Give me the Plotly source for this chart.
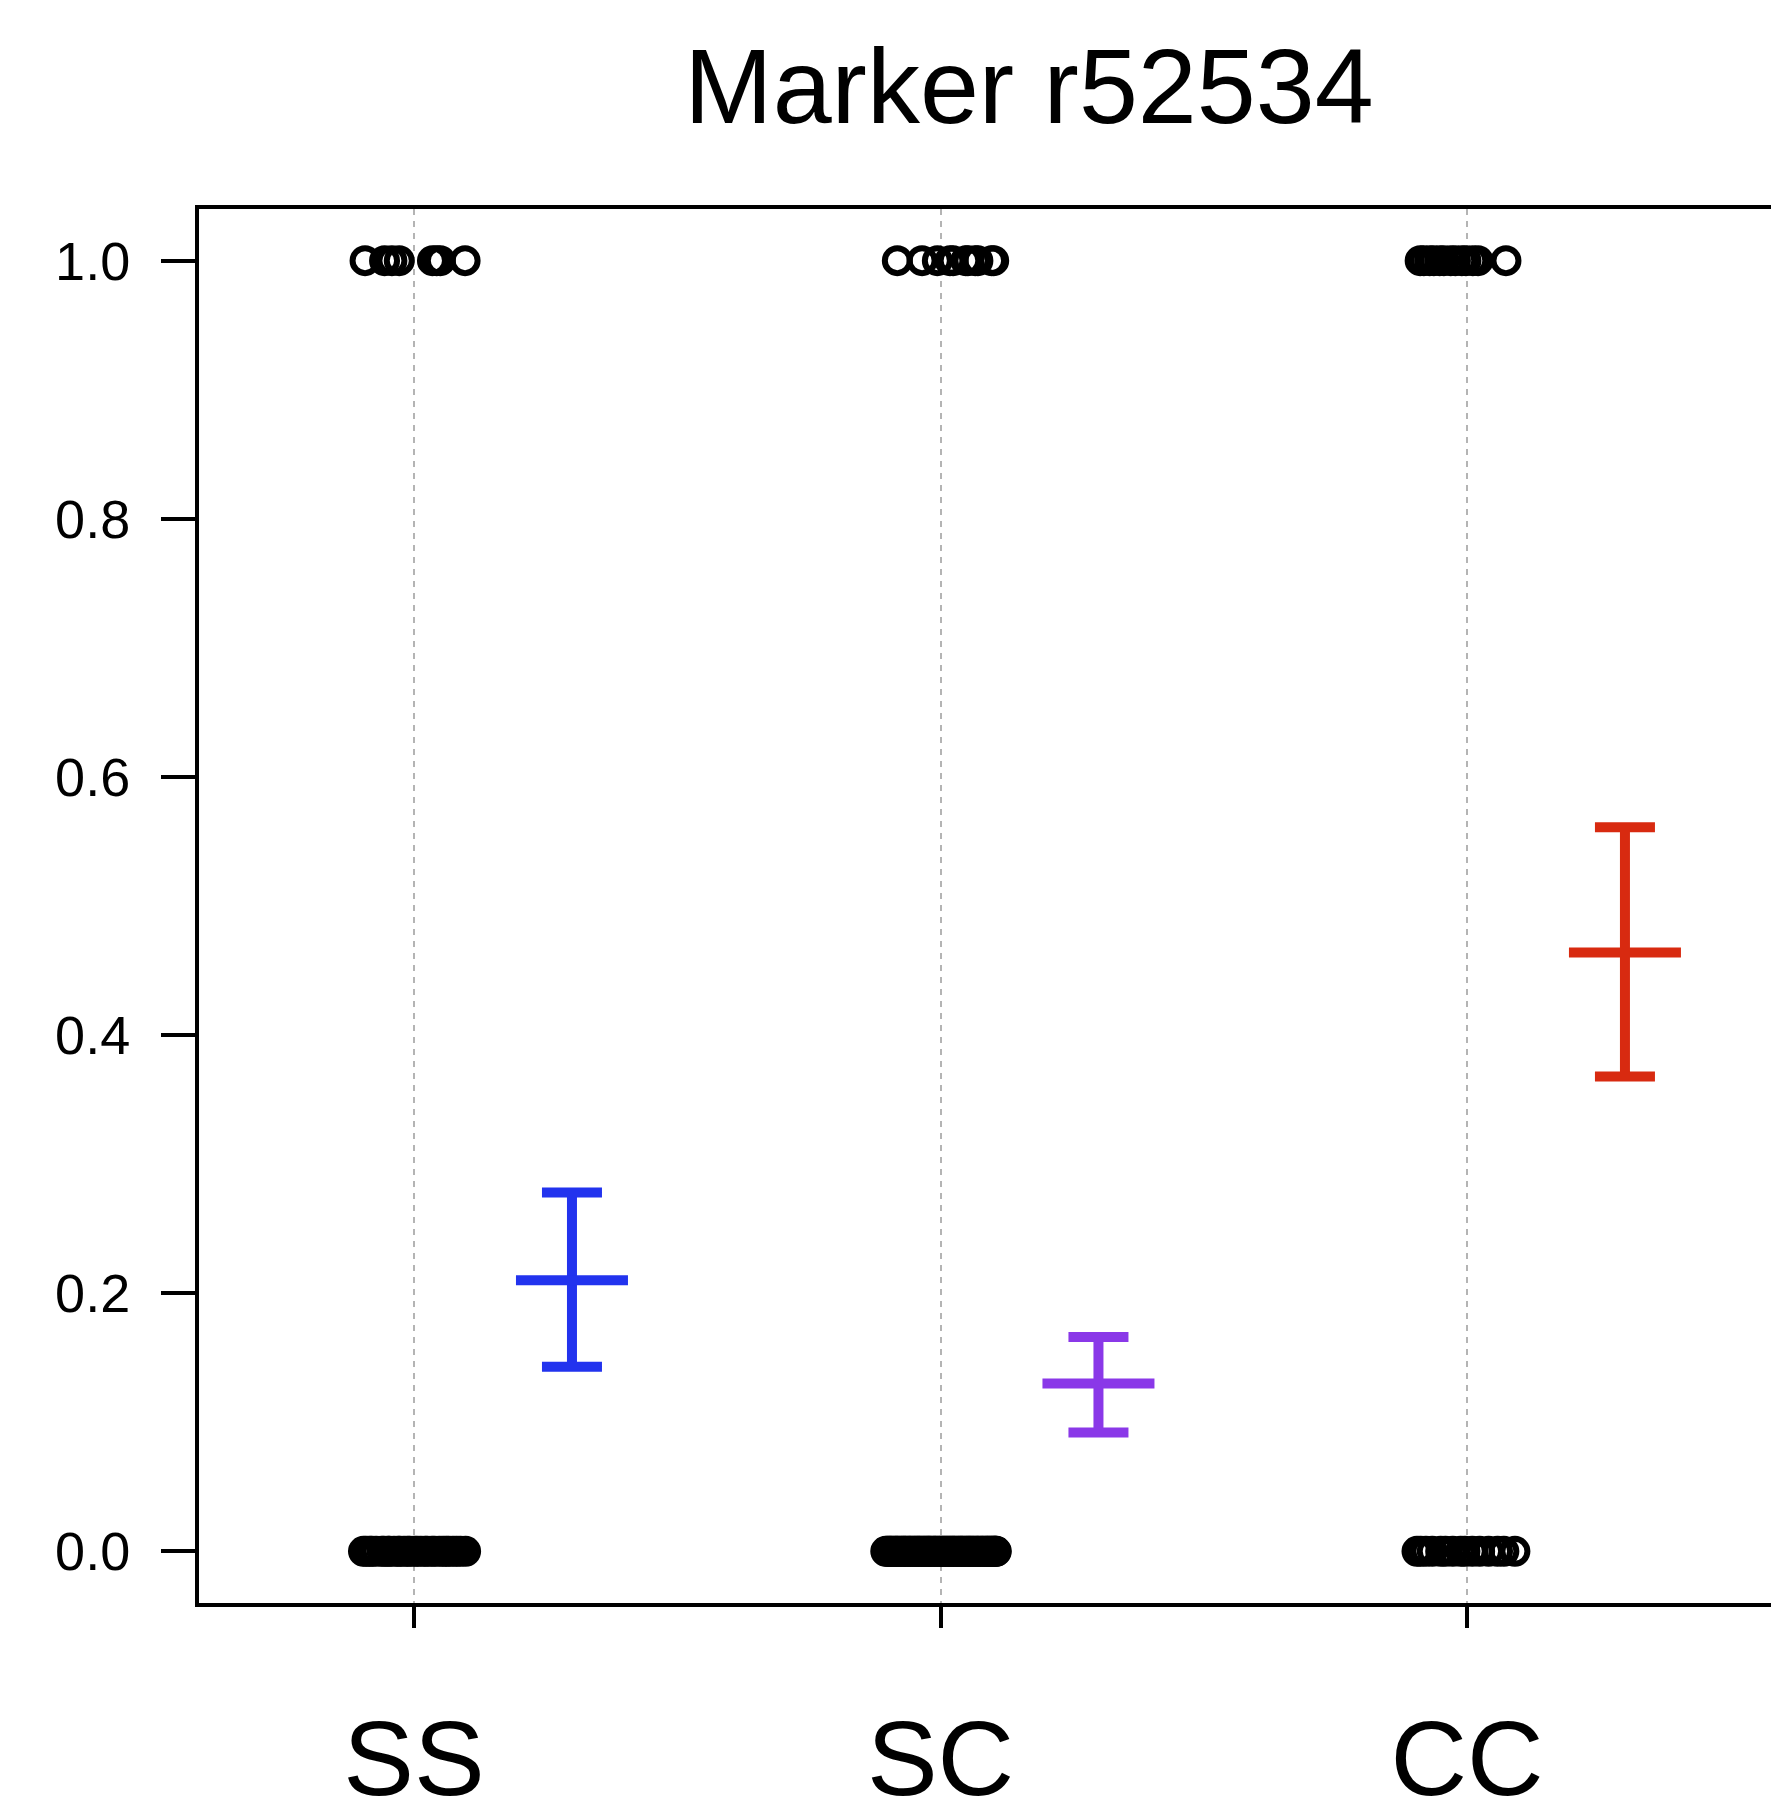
import plotly.graph_objects as go

# ---- data ----
categories = ["SS", "SC", "CC"]
cat_pos = [1, 2, 3]

# horizontal jitter offsets of the individual observations (data units)
ss_ones = [-0.093, -0.056, -0.042, -0.028, 0.035, 0.043, 0.050, 0.097]
ss_zeros = [-0.096, -0.091, -0.084, -0.080, -0.072, -0.061, -0.057, -0.049, -0.047,
            -0.038, -0.030, -0.027, -0.019, -0.012, -0.008, 0.001, 0.006, 0.013,
            0.021, 0.025, 0.034, 0.039, 0.048, 0.055, 0.061, 0.066, 0.074, 0.081,
            0.088, 0.098]
sc_ones = [-0.082, -0.035, -0.006, 0.018, 0.024, 0.048, 0.052, 0.066, 0.071, 0.097, 0.101]
sc_zeros = [-0.104, -0.101, -0.098, -0.095, -0.093, -0.089, -0.086, -0.083, -0.081,
            -0.077, -0.074, -0.071, -0.068, -0.066, -0.062, -0.059, -0.057, -0.053,
            -0.050, -0.047, -0.044, -0.041, -0.039, -0.035, -0.032, -0.029, -0.026,
            -0.023, -0.021, -0.018, -0.014, -0.011, -0.009, -0.005, -0.002, 0.001,
            0.004, 0.007, 0.010, 0.013, 0.016, 0.019, 0.022, 0.025, 0.027, 0.031,
            0.034, 0.037, 0.040, 0.042, 0.046, 0.049, 0.052, 0.055, 0.057, 0.061,
            0.063, 0.067, 0.070, 0.072, 0.076, 0.079, 0.081, 0.085, 0.088, 0.090,
            0.093, 0.096, 0.098, 0.101, 0.103, 0.105, 0.106]
cc_ones = [-0.089, -0.082, -0.071, -0.063, -0.052, -0.044, -0.031, -0.022, -0.010,
           -0.002, 0.011, 0.021, 0.074]
cc_zeros = [-0.095, -0.088, -0.078, -0.066, -0.050, -0.041, -0.027, -0.012, -0.004,
            0.010, 0.024, 0.041, 0.058, 0.070, 0.091]

# proportion (mean) with lower / upper error bar limits
means = [0.210, 0.130, 0.464]
lowers = [0.143, 0.092, 0.368]
uppers = [0.278, 0.166, 0.561]
colors = ["#2233ee", "#8a38e8", "#d82a10"]
bar_offset = 0.30

y_tickvals = [0.0, 0.2, 0.4, 0.6, 0.8, 1.0]
y_ticktext = ["0.0", "0.2", "0.4", "0.6", "0.8", "1.0"]

FONT = "Liberation Sans, Arial, Helvetica, sans-serif"

fig = go.Figure()

groups = [(ss_ones, ss_zeros), (sc_ones, sc_zeros), (cc_ones, cc_zeros)]
for pos, (ones, zeros) in zip(cat_pos, groups):
    xs = [pos + o for o in ones] + [pos + o for o in zeros]
    ys = [1] * len(ones) + [0] * len(zeros)
    fig.add_trace(go.Scatter(
        x=xs, y=ys, mode="markers",
        marker=dict(symbol="circle-open", size=25, color="black", line=dict(width=6, color="black")),
        showlegend=False, hoverinfo="skip",
    ))

for pos, m, lo, hi, c in zip(cat_pos, means, lowers, uppers, colors):
    fig.add_trace(go.Scatter(
        x=[pos + bar_offset], y=[m], mode="markers",
        marker=dict(symbol="line-ew", size=80, color=c, line=dict(width=10, color=c)),
        error_y=dict(type="data", symmetric=False, array=[hi - m], arrayminus=[m - lo],
                     width=30, thickness=10, color=c),
        showlegend=False, hoverinfo="skip",
    ))

fig.update_layout(
    width=1771, height=1817,
    margin=dict(l=199, r=0, t=209, b=180, pad=0),
    paper_bgcolor="white", plot_bgcolor="white",
    font=dict(family=FONT, color="black"),
    title=dict(text="Marker r52534", font=dict(size=106, family=FONT, color="black"),
               x=(1029 - 199) / 1572, xref="paper", xanchor="center",
               y=1 - 86 / 1817, yref="container", yanchor="middle"),
    xaxis=dict(
        range=[0.5916, 3.5774], tickvals=cat_pos, ticktext=categories,
        showline=True, linecolor="black", linewidth=4, mirror=True,
        ticks="outside", ticklen=21, tickwidth=4, tickcolor="black",
        tickfont=dict(size=106, family=FONT, color="black"),
        ticklabelstandoff=40,
        showgrid=True, gridcolor="#b4b4b4", gridwidth=2, griddash="6px,6px",
        zeroline=False,
    ),
    yaxis=dict(
        range=[-0.04, 1.04], tickvals=y_tickvals, ticktext=y_ticktext,
        showline=True, linecolor="black", linewidth=4, mirror=False,
        ticks="outside", ticklen=34, tickwidth=4, tickcolor="black",
        tickfont=dict(size=54, family=FONT, color="black"),
        ticklabelstandoff=20,
        showgrid=False, zeroline=False,
    ),
)

fig.write_html("out.html")
